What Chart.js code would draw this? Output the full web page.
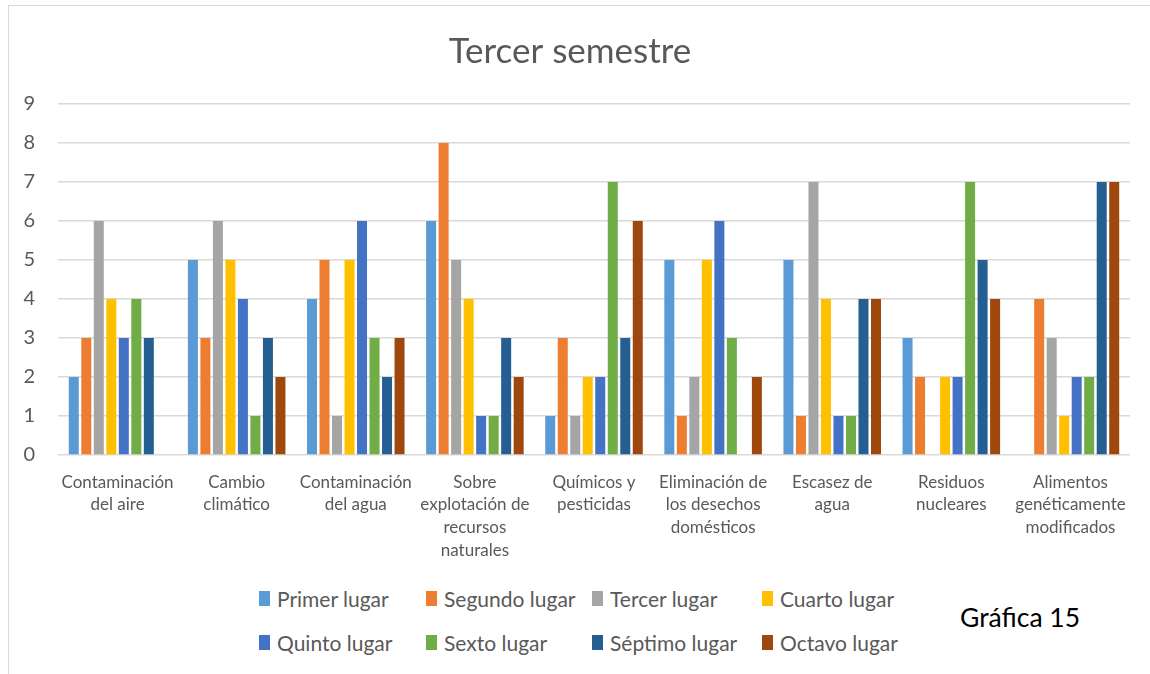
<!DOCTYPE html>
<html>
<head>
<meta charset="utf-8">
<script src="https://cdn.jsdelivr.net/npm/chart.js@4"></script>
<style>
  body { margin: 0; background: #fff; font-family: Lato, sans-serif; }
  #wrap { position: relative; width: 1150px; height: 674px; overflow: hidden; }
  #frame { position: absolute; left: 8px; top: 5px; width: 1200px; height: 700px;
           border-left: 1px solid #d9d9d9; border-top: 1px solid #d9d9d9; }
  #chartBox { position: absolute; left: 0; top: 0; width: 1150px; height: 570px; }
  #legend { position: absolute; left: 259px; top: 582px; display: grid;
            grid-template-columns: 167px 166px 170px 160px; row-gap: 12px; }
  .item { display: flex; align-items: center; height: 32px; font-size: 21px; color: #595959; white-space: nowrap; }
  .swatch { width: 11px; height: 15px; margin-right: 7px; flex: none; }
  #note { position: absolute; left: 960px; top: 601px; font-size: 26.5px; color: #000; }
</style>
</head>
<body>
<div id="wrap">
  <div id="frame"></div>
  <div id="chartBox"><canvas id="chart"></canvas></div>
  <div id="legend"></div>
  <div id="note">Gráfica 15</div>
</div>
<script>
// Categories (x axis)
const categories = [
  ['Contaminación', 'del aire'],
  ['Cambio', 'climático'],
  ['Contaminación', 'del agua'],
  ['Sobre', 'explotación de', 'recursos', 'naturales'],
  ['Químicos y', 'pesticidas'],
  ['Eliminación de', 'los desechos', 'domésticos'],
  ['Escasez de', 'agua'],
  ['Residuos', 'nucleares'],
  ['Alimentos', 'genéticamente', 'modificados']
];

// Series values, one per category
const primerLugar  = [2, 5, 4, 6, 1, 5, 5, 3, 0];
const segundoLugar = [3, 3, 5, 8, 3, 1, 1, 2, 4];
const tercerLugar  = [6, 6, 1, 5, 1, 2, 7, 0, 3];
const cuartoLugar  = [4, 5, 5, 4, 2, 5, 4, 2, 1];
const quintoLugar  = [3, 4, 6, 1, 2, 6, 1, 2, 2];
const sextoLugar   = [4, 1, 3, 1, 7, 3, 1, 7, 2];
const septimoLugar = [3, 3, 2, 3, 3, 0, 4, 5, 7];
const octavoLugar  = [0, 2, 3, 2, 6, 2, 4, 4, 7];

const seriesNames = ['Primer lugar', 'Segundo lugar', 'Tercer lugar', 'Cuarto lugar',
                     'Quinto lugar', 'Sexto lugar', 'Séptimo lugar', 'Octavo lugar'];
const seriesData = [primerLugar, segundoLugar, tercerLugar, cuartoLugar,
                    quintoLugar, sextoLugar, septimoLugar, octavoLugar];
const seriesColors = ['#5b9bd5', '#ed7d31', '#a5a5a5', '#ffc000',
                      '#4472c4', '#70ad47', '#255e91', '#9e480e'];

const yTicks = [0, 1, 2, 3, 4, 5, 6, 7, 8, 9];

const datasets = seriesNames.map((name, i) => ({
  label: name,
  data: seriesData[i],
  backgroundColor: seriesColors[i],
  borderWidth: 0,
  barPercentage: 0.8,
  categoryPercentage: 0.84
}));

const chart = new Chart(document.getElementById('chart').getContext('2d'), {
  type: 'bar',
  data: { labels: categories, datasets: datasets },
  options: {
    responsive: true,
    maintainAspectRatio: false,
    animation: false,
    layout: { padding: { left: 10, right: 20, top: 4, bottom: 5 } },
    plugins: {
      legend: { display: false },
      tooltip: { enabled: false },
      title: {
        display: true,
        text: 'Tercer semestre',
        color: '#595959',
        font: { family: 'Lato', size: 35, weight: 'normal', lineHeight: 1.2 },
        padding: { top: 27, bottom: 31 }
      }
    },
    scales: {
      x: {
        grid: { display: false },
        border: { display: false },
        ticks: {
          color: '#595959',
          font: { family: 'Lato', size: 17, lineHeight: 1.33 },
          maxRotation: 0,
          autoSkip: false,
          padding: 8
        },
        afterFit: scale => { scale.height = 110; }
      },
      y: {
        min: yTicks[0],
        max: yTicks[yTicks.length - 1],
        afterBuildTicks: scale => { scale.ticks = yTicks.map(v => ({ value: v })); },
        grid: { color: '#d9d9d9', lineWidth: 1.5, drawTicks: false },
        border: { display: false },
        ticks: {
          color: '#595959',
          font: { family: 'Lato', size: 20 },
          padding: 23
        },
        afterFit: scale => { scale.width = 48; }
      }
    }
  }
});

// legend built from the chart's datasets
const legendEl = document.getElementById('legend');
chart.data.datasets.forEach(ds => {
  const item = document.createElement('div');
  item.className = 'item';
  const sw = document.createElement('span');
  sw.className = 'swatch';
  sw.style.background = ds.backgroundColor;
  const txt = document.createElement('span');
  txt.textContent = ds.label;
  item.appendChild(sw);
  item.appendChild(txt);
  legendEl.appendChild(item);
});
</script>
</body>
</html>
